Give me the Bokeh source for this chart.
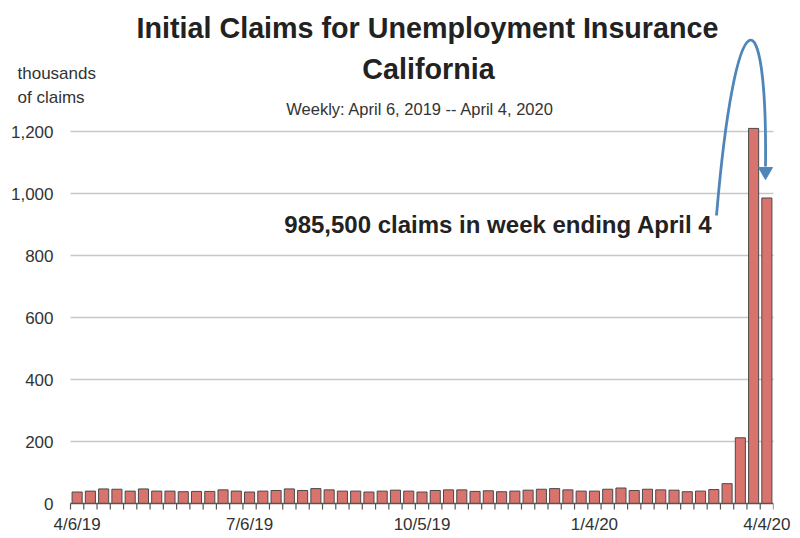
import pandas as pd
from bokeh.plotting import figure
from bokeh.models import ColumnDataSource, FixedTicker, Label, Range1d
from bokeh.embed import file_html
from bokeh.resources import INLINE

# ---- data (thousands of initial claims, weekly) ----
week_ending = [d.strftime("%-m/%-d/%y") for d in
               pd.date_range("2019-04-06", "2020-04-04", freq="7D")]
claims = [37, 40, 47, 46, 40, 47, 40, 40, 38, 39, 39, 44, 40,
          37, 40, 42, 47, 42, 48, 44, 40, 40, 37, 40, 43, 40,
          37, 42, 44, 44, 39, 41, 38, 40, 43, 46, 48, 44, 40,
          40, 46, 50, 42, 46, 44, 43, 38, 40, 45, 64, 212, 1210, 985.5]
tick_labels = ["4/6/19", "7/6/19", "10/5/19", "1/4/20", "4/4/20"]
y_ticks = [0, 200, 400, 600, 800, 1000, 1200]

FONT = "Liberation Sans"
N = len(claims)
UNIT = 703.0 / N          # px per bar slot
YS = 0.31                 # px per thousand

# page-pixel helpers for annotation placement
def X(px):
    return (px - 70.0) / UNIT - 0.5

def Y(py):
    return (503.0 - py) / YS

idx = list(range(N))
src = ColumnDataSource(dict(x=idx, y=claims, week=week_ending))

W, H = 800, 538
p = figure(width=W, height=H, output_backend="svg", toolbar_location=None,
           y_axis_location=None,
           x_range=Range1d(X(0), N - 0.5), y_range=Range1d(Y(512), Y(0)),
           min_border_left=0, min_border_right=27, min_border_top=0,
           min_border_bottom=26)
p.outline_line_color = None
p.background_fill_color = "white"
p.border_fill_color = "white"
p.xgrid.grid_line_color = None
p.ygrid.grid_line_color = None

# horizontal gridlines and y tick labels
grid_y = y_ticks[1:]
p.segment(x0=[-0.5] * len(grid_y), x1=[N - 0.5 + 0.2] * len(grid_y),
          y0=grid_y, y1=grid_y, line_color="#c8c8c8", line_width=1.5)
p.text(x=[X(53)] * len(y_ticks), y=y_ticks,
       text=[f"{v:,}" for v in y_ticks], text_align="right",
       text_baseline="middle", text_font_size="17px",
       text_color="#333333", text_font={"value": FONT})

# bars
p.vbar(x="x", top="y", width=0.76, source=src, fill_color="#d9736d",
       line_color="#4a4a4a", line_width=1)

# baseline and tick marks between weekly bars
bounds = [i - 0.5 for i in range(N + 1)]
p.segment(x0=[-0.5], x1=[N - 0.5], y0=[0], y1=[0],
          line_color="#555555", line_width=1.5)
p.segment(x0=bounds, x1=bounds, y0=[0] * len(bounds),
          y1=[Y(509)] * len(bounds), line_color="#555555", line_width=1.2)

# x axis labels at quarter weeks
tick_pos = [week_ending.index(t) for t in tick_labels]
p.xaxis.ticker = FixedTicker(ticks=tick_pos)
p.xaxis.major_label_overrides = {i: t for i, t in zip(tick_pos, tick_labels)}
p.xaxis.axis_line_color = None
p.xaxis.major_tick_line_color = None
p.xaxis.minor_tick_line_color = None
p.xaxis.major_tick_out = 0
p.xaxis.major_tick_in = 0
p.xaxis.major_label_standoff = 2
p.xaxis.major_label_text_font = FONT
p.xaxis.major_label_text_font_size = "17px"
p.xaxis.major_label_text_color = "#333333"

# texts
def lab(text, px, py, size, bold=False, align="center", color="#222222"):
    p.add_layout(Label(x=X(px), y=Y(py), text=text, text_font=FONT,
                       text_font_size=size, text_align=align,
                       text_baseline="middle", text_color=color,
                       text_font_style="bold" if bold else "normal"))

lab("Initial Claims for Unemployment Insurance", 427, 27, "28.7px", bold=True)
lab("California", 428, 68, "28.7px", bold=True)
lab("Weekly: April 6, 2019 -- April 4, 2020", 420, 108, "16.5px", color="#333333")
lab("thousands", 17, 73, "17px", align="left", color="#333333")
lab("of claims", 17, 97, "17px", align="left", color="#333333")
lab("985,500 claims in week ending April 4", 712, 224, "24px", bold=True,
    align="right")

# curved arrow
p.bezier(x0=[X(716)], y0=[Y(215)], x1=[X(765)], y1=[Y(166)],
         cx0=[X(735)], cy0=[Y(-10)], cx1=[X(767)], cy1=[Y(-10)],
         line_color="#4f86b9", line_width=2.8)
p.scatter(x=[X(765)], y=[Y(171)], marker="inverted_triangle", size=14,
          fill_color="#4f86b9", line_color="#4f86b9")

open("out.html", "w").write(file_html(p, INLINE))
